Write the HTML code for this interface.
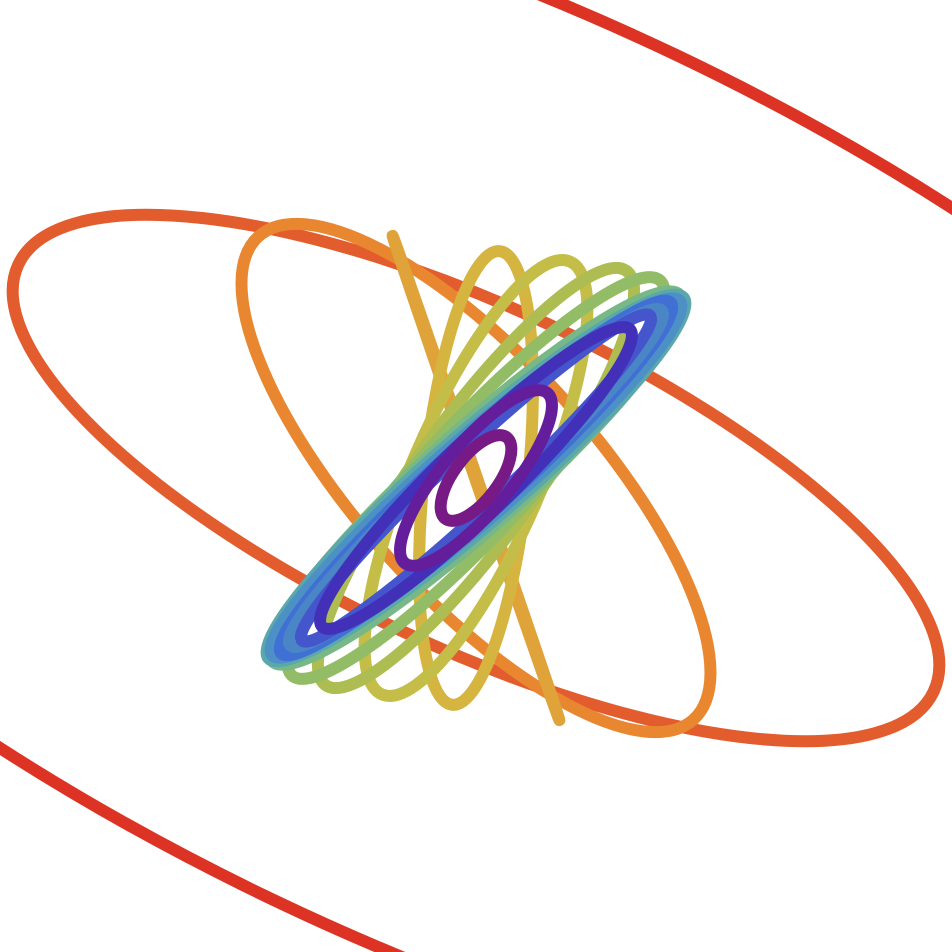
<!DOCTYPE html>
<html><head><meta charset="utf-8"><style>
html,body{margin:0;padding:0;background:#fff;overflow:hidden;}
svg{display:block;}
</style></head><body>
<svg id="chart" width="952" height="952" viewBox="0 0 952 952" xmlns="http://www.w3.org/2000/svg"></svg>
<script>
const semiMajor = [1100, 505, 325, 256, 228, 236, 256, 270, 274, 275, 270, 262, 250, 238, 214, 111, 51];
const semiMinor = [468, 170, 118, 1, 52, 65, 60, 54, 48, 44, 40, 36, 32, 28, 36, 34, 22];
const angles = [25.5, 25, 48, 71, -84, -66.5, -54, -47, -42, -41, -41, -42, -42, -43, -44, -50, -53];
const colors = ['#dc3324','#e35c2d','#e8872f','#e0a33a','#d6b440','#c4bd48','#adbd52','#93bc66','#78b887','#5aa7ac','#4c90c6','#4070d4','#4a86c6','#4555cc','#4230b8','#641e9c','#781a86'];
const cx = 476, cy = 478;
const svg = document.getElementById('chart');
for (let i = 0; i < semiMajor.length; i++) {
  const e = document.createElementNS('http://www.w3.org/2000/svg', 'ellipse');
  e.setAttribute('cx', cx);
  e.setAttribute('cy', cy);
  e.setAttribute('rx', semiMajor[i]);
  e.setAttribute('ry', semiMinor[i]);
  e.setAttribute('transform', 'rotate(' + angles[i] + ' ' + cx + ' ' + cy + ')');
  e.setAttribute('fill', 'none');
  e.setAttribute('stroke', colors[i]);
  e.setAttribute('stroke-width', '12');
  
  
  svg.appendChild(e);
}
</script>
</body></html>
